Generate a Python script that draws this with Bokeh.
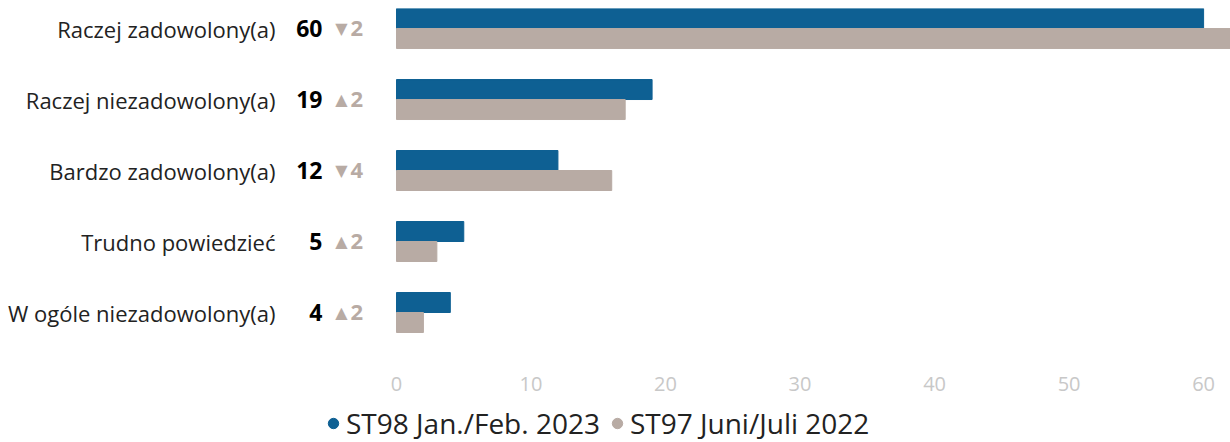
from bokeh.plotting import figure
from bokeh.layouts import column
from bokeh.models import ColumnDataSource, Range1d, FixedTicker, Legend, LegendItem
from bokeh.core.properties import value
from bokeh.embed import file_html
from bokeh.resources import INLINE

categories = ["Raczej zadowolony(a)", "Raczej niezadowolony(a)", "Bardzo zadowolony(a)",
              "Trudno powiedzieć", "W ogóle niezadowolony(a)"]
st98 = [60, 19, 12, 5, 4]
st97 = [62, 17, 16, 3, 2]
series_names = ["ST98 Jan./Feb. 2023", "ST97 Juni/Juli 2022"]
ticks = [0, 10, 20, 30, 40, 50, 60]

BLUE = "#0e6093"
GREY = "#b8aba4"
FONT = "Open Sans"

n = len(categories)
ypos = list(range(n))
bh = 0.2817
delta = [a - b for a, b in zip(st98, st97)]
src = ColumnDataSource(dict(
    y=ypos,
    yb=[y - bh / 2 for y in ypos],
    yg=[y + bh / 2 for y in ypos],
    cat=categories,
    v98=st98,
    v97=st97,
    vlab=[str(v) for v in st98],
    dlab=[str(abs(d)) for d in delta],
    arrow=["\u25b2" if d > 0 else "\u25bc" for d in delta],
    x0=[0] * n,
))

p = figure(frame_width=1230, frame_height=352, output_backend="svg", toolbar_location=None,
           x_range=Range1d(-29.44, 62.0), y_range=Range1d(4.676, -0.282),
           min_border_left=0, min_border_right=0, min_border_top=8, min_border_bottom=40)
p.outline_line_color = None
p.xgrid.visible = False
p.ygrid.visible = False
p.yaxis.visible = False
p.background_fill_color = "white"
p.border_fill_color = "white"

p.hbar(y="yb", left=0, right="v98", height=bh, color=BLUE, source=src)
p.hbar(y="yg", left=0, right="v97", height=bh, color=GREY, source=src)

p.text(x="x0", y="y", text="cat", x_offset=-121, text_align="right", text_baseline="middle",
       text_font=value(FONT), text_font_size="22px", text_color="#222222", source=src)
p.text(x="x0", y="y", text="vlab", x_offset=-74, text_align="right", text_baseline="middle",
       text_font=value(FONT), text_font_size="23px", text_font_style="bold", text_color="#000000", source=src)
p.text(x="x0", y="y", text="arrow", x_offset=-55, text_align="center", text_baseline="middle",
       text_font=value("DejaVu Sans"), text_font_size="16px", text_color=GREY, source=src)
p.text(x="x0", y="y", text="dlab", x_offset=-46, text_align="left", text_baseline="middle",
       text_font=value(FONT), text_font_size="22px", text_font_style="bold", text_color=GREY, source=src)

ax = p.xaxis[0]
ax.ticker = FixedTicker(ticks=ticks)
ax.axis_line_color = None
ax.major_tick_line_color = None
ax.minor_tick_line_color = None
ax.major_label_text_color = "#c8c8c8"
ax.major_label_text_font = FONT
ax.major_label_text_font_size = "20px"
ax.major_label_standoff = 10

# legend strip below the chart
lg = figure(width=1230, height=42, output_backend="svg", toolbar_location=None,
            x_range=Range1d(0, 1), y_range=Range1d(0, 1),
            min_border_left=0, min_border_right=0, min_border_top=0, min_border_bottom=0)
lg.outline_line_color = None
lg.axis.visible = False
lg.grid.visible = False
lsrc = ColumnDataSource(dict(x=[0.5], y=[0.5]))
r1 = lg.scatter(x="x", y="y", marker="circle", size=0, color=BLUE, source=lsrc)
r2 = lg.scatter(x="x", y="y", marker="circle", size=0, color=GREY, source=lsrc)
legend = Legend(items=[LegendItem(label=series_names[0], renderers=[r1], index=0),
                       LegendItem(label=series_names[1], renderers=[r2], index=0)],
                orientation="horizontal", location=(320, 0),
                label_text_font=FONT, label_text_font_size="28px", label_text_color="#222222",
                glyph_width=26, glyph_height=26, label_standoff=0, spacing=4,
                padding=0, margin=0, border_line_color=None, background_fill_alpha=0)
lg.add_layout(legend, "center")

layout = column(p, lg, spacing=0)
open("out.html", "w").write(file_html(layout, INLINE))
